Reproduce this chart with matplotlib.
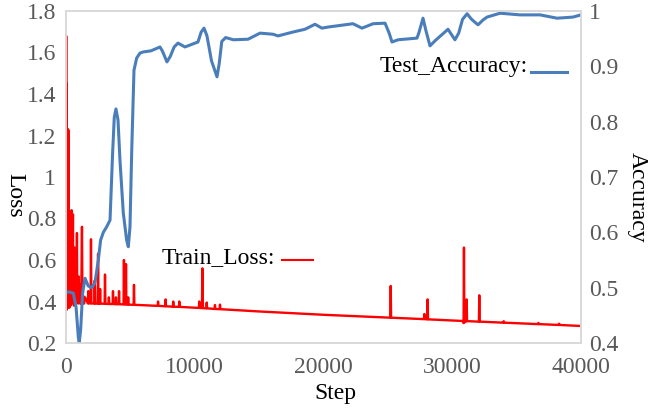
import matplotlib
matplotlib.use("Agg")
import matplotlib.pyplot as plt

# train loss (step, loss)
loss_steps = [0, 15, 30, 45, 60, 80, 100, 120, 140, 165, 185, 200, 220, 240, 260, 290, 310, 330, 350, 380,
              400, 430, 450, 480, 500, 540, 560, 590, 620, 660, 690, 720, 750, 790, 810, 850, 880, 920, 950, 990,
              1020, 1060, 1100, 1140, 1180, 1240, 1280, 1320, 1400, 1480,
              1700, 1730, 1760, 1910, 1940, 1970, 2200, 2230, 2260, 2460, 2490, 2520, 2620, 2650, 2680,
              3000, 3030, 3060, 3300, 3330, 3360, 3620, 3650, 3680, 3850, 3880, 3910, 4090, 4120, 4150,
              4470, 4500, 4530, 4630, 4660, 4690, 4800, 4830, 4860, 5250, 5280, 5310,
              7120, 7150, 7180, 7710, 7740, 7770, 8300, 8330, 8360, 8770, 8800, 8830,
              10320, 10350, 10380, 10560, 10590, 10620, 10900, 10930, 10960, 11540, 11570, 11600,
              11930, 11960, 11990, 15000, 20000,
              25190, 25220, 25250, 27800, 27830, 27860, 28060, 28090, 28120,
              30850, 30880, 30910, 30940, 31090, 31120, 31150, 31300,
              32070, 32100, 32130, 33970, 34000, 34030, 36670, 36700, 36730, 38270, 38300, 38330, 40000]
loss_values = [0.45, 1.68, 0.40, 1.45, 0.36, 0.95, 0.42, 0.70, 0.37, 1.23, 0.40, 1.22, 0.45, 0.60, 0.37, 0.69, 0.40, 0.52, 0.38, 0.62,
               0.41, 0.84, 0.39, 0.55, 0.40, 0.82, 0.42, 0.48, 0.38, 0.66, 0.41, 0.50, 0.39, 0.47, 0.40, 0.73, 0.40, 0.50, 0.39, 0.52,
               0.40, 0.45, 0.39, 0.48, 0.39, 0.76, 0.39, 0.43, 0.39, 0.42,
               0.391, 0.45, 0.391, 0.391, 0.70, 0.391, 0.390, 0.50, 0.390, 0.390, 0.63, 0.390, 0.390, 0.46, 0.390,
               0.389, 0.53, 0.389, 0.388, 0.42, 0.388, 0.388, 0.45, 0.388, 0.387, 0.42, 0.387, 0.387, 0.45, 0.387,
               0.386, 0.60, 0.386, 0.386, 0.58, 0.386, 0.385, 0.42, 0.385, 0.384, 0.48, 0.384,
               0.379, 0.40, 0.379, 0.377, 0.41, 0.377, 0.375, 0.40, 0.375, 0.374, 0.40, 0.374,
               0.369, 0.40, 0.369, 0.368, 0.56, 0.368, 0.367, 0.395, 0.367, 0.364, 0.383, 0.364,
               0.363, 0.385, 0.363, 0.352, 0.336,
               0.322, 0.475, 0.322, 0.315, 0.34, 0.315, 0.314, 0.41, 0.314,
               0.306, 0.296, 0.66, 0.30, 0.305, 0.41, 0.305, 0.305,
               0.303, 0.43, 0.303, 0.298, 0.305, 0.298, 0.291, 0.297, 0.291, 0.287, 0.293, 0.287, 0.282]

# test accuracy (step, accuracy)
acc_steps = [0, 300, 570, 780, 960, 1030, 1140, 1290, 1475, 1730, 2000, 2250, 2510, 2690, 2900, 3160, 3420,
             3620, 3750, 3880, 4040, 4190, 4450, 4710, 4840, 4970, 5100, 5280, 5490, 5750, 6000, 6600,
             7300, 7500, 7840, 8100, 8400, 8700, 9240, 9800, 10250, 10500, 10720, 10950, 11300, 11730, 11900,
             12100, 12400, 13000, 14140, 15070, 16080, 16470, 17630, 18560, 19340, 19880, 20350, 22290, 22990,
             23850, 24780, 25100, 25320, 25790, 27260, 27400, 27730, 27950, 28270, 28700, 29670, 30210, 30500,
             30800, 31150, 31500, 32000, 32400, 32700, 33710, 35260, 36820, 38140, 39380, 40000]
acc_values = [0.492, 0.492, 0.490, 0.465, 0.41, 0.40, 0.425, 0.49, 0.517, 0.503, 0.50, 0.509, 0.55, 0.586, 0.60, 0.61, 0.622,
              0.743, 0.808, 0.823, 0.803, 0.731, 0.635, 0.586, 0.574, 0.61, 0.743, 0.893, 0.915, 0.924, 0.926, 0.928,
              0.935, 0.927, 0.908, 0.918, 0.935, 0.942, 0.935, 0.94, 0.944, 0.962, 0.969, 0.955, 0.91, 0.881, 0.905,
              0.945, 0.952, 0.948, 0.949, 0.96, 0.958, 0.955, 0.962, 0.967, 0.976, 0.969, 0.971, 0.977, 0.969,
              0.977, 0.978, 0.96, 0.944, 0.948, 0.951, 0.96, 0.987, 0.965, 0.937, 0.947, 0.967, 0.948, 0.96,
              0.985, 0.995, 0.985, 0.975, 0.984, 0.989, 0.996, 0.993, 0.993, 0.987, 0.989, 0.993]

x_ticks = [0, 10000, 20000, 30000, 40000]
loss_ticks = [0.2, 0.4, 0.6, 0.8, 1.0, 1.2, 1.4, 1.6, 1.8]
loss_labels = ["0.2", "0.4", "0.6", "0.8", "1", "1.2", "1.4", "1.6", "1.8"]
acc_ticks = [0.4, 0.5, 0.6, 0.7, 0.8, 0.9, 1.0]
acc_labels = ["0.4", "0.5", "0.6", "0.7", "0.8", "0.9", "1"]

plt.rcParams['font.family'] = ['Liberation Serif', 'DejaVu Serif']
tick_color = "#595959"
spine_color = "#D9D9D9"
blue = "#4A7EBB"
fs = 17

fig = plt.figure(figsize=(6.54, 4.09), dpi=100)
ax = fig.add_axes([66/654, 1 - 343/409, (581 - 66)/654, (343 - 11)/409])
ax.plot(loss_steps, loss_values, color="red", linewidth=1.7)
ax.set_xlim(0, 40000)
ax.set_ylim(0.2, 1.8)
ax.set_xticks(x_ticks)
ax.set_xticklabels([str(t) for t in x_ticks])
ax.set_yticks(loss_ticks)
ax.set_yticklabels(loss_labels)
ax.tick_params(length=0, labelsize=fs, colors=tick_color)
ax.tick_params(axis="y", pad=7)
ax.tick_params(axis="x", pad=10)

ax2 = ax.twinx()
ax2.plot(acc_steps, acc_values, color=blue, linewidth=2.2, solid_joinstyle="round")
ax2.set_ylim(0.4, 1.0)
ax2.set_yticks(acc_ticks)
ax2.set_yticklabels(acc_labels)
ax2.tick_params(length=0, labelsize=fs, colors=tick_color, pad=6)

for a in (ax, ax2):
    for s in a.spines.values():
        s.set_color(spine_color)
        s.set_linewidth(1.2)

fig.text(15/654, 1 - 195/409, "Loss", rotation=270, fontsize=fs, ha="center", va="center")
fig.text(637/654, 1 - 197/409, "Accuracy", rotation=270, fontsize=fs, ha="center", va="center")
fig.text(335/654, 1 - 399/409, "Step", fontsize=fs, ha="center", va="baseline")

# in-plot labels with a short line sample
fig.text(162/654, 1 - 263/409, "Train_Loss:", fontsize=fs, va="baseline", ha="left")
ax.plot([282/654, 313/654], [1 - 260/409, 1 - 260/409], transform=fig.transFigure, color="red", linewidth=1.5)
fig.text(380/654, 1 - 72/409, "Test_Accuracy:", fontsize=fs, va="baseline", ha="left")
ax2.plot([531/654, 567/654], [1 - 72/409, 1 - 72/409], transform=fig.transFigure, color=blue, linewidth=2.2)

fig.savefig("out.png", dpi=100)
